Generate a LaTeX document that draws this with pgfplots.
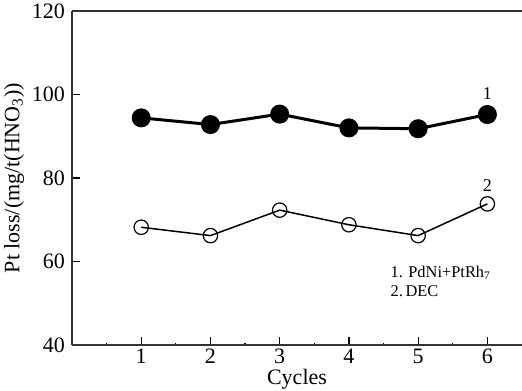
\documentclass[border=0pt]{standalone}
\usepackage{fontspec}
\setmainfont{Liberation Serif}
\usepackage{pgfplots}
\pgfplotsset{compat=1.18}
\begin{document}
\begin{tikzpicture}
\begin{axis}[
  scale only axis,
  width=225pt, height=167pt,
  xmin=0, xmax=6.5, ymin=40, ymax=120,
  axis x line*=bottom, axis y line*=left,
  xtick={1,2,3,4,5,6},
  minor xtick={0.5,1.5,2.5,3.5,4.5,5.5},
  ytick={40,60,80,100,120},
  tick align=inside,
  major tick length=4pt, minor tick length=1.2pt,
  tick style={black, line width=0.6pt},
  axis line style={line width=0.6pt, black!80},
  /pgf/number format/assume math mode=true,
  tick label style={font=\fontsize{11}{12}\selectfont},
  label style={font=\fontsize{11}{12}\selectfont},
  xlabel={Cycles},
  ylabel={Pt loss/(mg/t(HNO\textsubscript{3}))},
  xlabel style={yshift=4pt},
  ylabel style={yshift=-3pt},
  xticklabel style={yshift=1.5pt},
  clip=false,
]
\addplot[black, line width=1.5pt, mark=*, mark size=4pt, mark options={fill=black}]
  coordinates {(1,94.4) (2,92.8) (3,95.3) (4,92.0) (5,91.8) (6,95.2)};
\addplot[black, line width=0.75pt, mark=o, mark size=3.6pt, mark options={fill=white, line width=0.6pt}]
  coordinates {(1,68.2) (2,66.2) (3,72.3) (4,68.8) (5,66.2) (6,73.8)};
\node[font=\fontsize{9}{10}\selectfont] at (axis cs:6,100.3) {1};
\node[font=\fontsize{9}{10}\selectfont] at (axis cs:6,78.2) {2};
\node[font=\fontsize{8.2}{9.2}\selectfont, anchor=west, align=left] at (axis cs:4.5,55.2) {1. PdNi+PtRh\textsubscript{7}\\2.\,DEC};
\draw[line width=0.6pt, black!80] (rel axis cs:0,1) -- (rel axis cs:1,1);
\coordinate (sw) at (rel axis cs:0,0);
\coordinate (ne) at (rel axis cs:1,1);
\end{axis}
\pgfresetboundingbox
\path ([shift={(-36pt,-23pt)}]sw) rectangle ([yshift=5.5pt]ne);
\end{tikzpicture}
\end{document}
